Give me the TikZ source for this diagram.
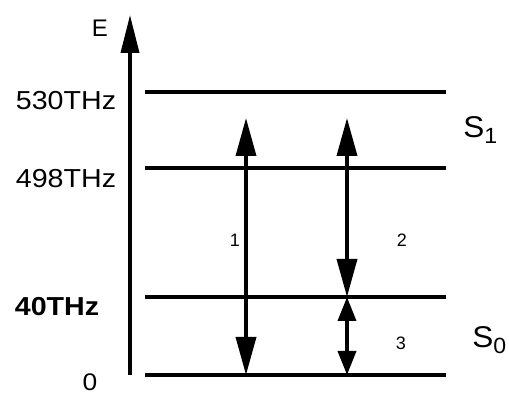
\documentclass[tikz,border=0pt]{standalone}
\usepackage{fontspec}
\setmainfont{Liberation Sans}
\usetikzlibrary{arrows.meta}
\begin{document}
\begin{tikzpicture}[
        x=0.5pt, y=-0.5pt,
        level/.style={line width=1.8pt},
        axis/.style={line width=1.8pt, -{Triangle[length=19pt, width=9pt]}},
        trans/.style={line width=1.8pt, {Triangle[length=19pt, width=10pt]}-{Triangle[length=19pt, width=10pt]}},
        short_trans/.style={line width=1.8pt, {Triangle[length=12pt, width=9pt]}-{Triangle[length=12pt, width=9pt]}},
        freq/.style={inner sep=0pt, xscale=1.1, font=\fontsize{13}{15}\selectfont},
        state/.style={inner sep=0pt, anchor=base west, xscale=1.05, font=\fontsize{15}{17}\selectfont},
        num_label/.style={inner sep=0pt, font=\fontsize{9}{10}\selectfont}
    ]
        \useasboundingbox (0,0) rectangle (509,394);

        % Energy axis
        \coordinate (axis_bot) at (130,375);
        \coordinate (axis_top) at (130,15);
        \draw[axis] (axis_bot) -- (axis_top);
        \node[inner sep=0pt, font=\fontsize{12}{13}\selectfont] (e_label) at (100,28.5) {E};

        % Levels
        \coordinate (lvl530_l) at (145,92);   \coordinate (lvl530_r) at (446,92);
        \coordinate (lvl498_l) at (145,168);  \coordinate (lvl498_r) at (446,168);
        \coordinate (lvl40_l) at (145,297);   \coordinate (lvl40_r) at (446,297);
        \coordinate (lvl0_l) at (145,375);    \coordinate (lvl0_r) at (446,375);
        \draw[level] (lvl530_l) -- (lvl530_r);
        \draw[level] (lvl498_l) -- (lvl498_r);
        \draw[level] (lvl40_l) -- (lvl40_r);
        \draw[level] (lvl0_l) -- (lvl0_r);

        % Frequency labels
        \node[freq] (f530) at (66,101) {530THz};
        \node[freq] (f498) at (66,178.5) {498THz};
        \node[freq, font=\fontsize{13}{15}\selectfont\bfseries] (f40) at (57,307) {40THz};
        \node[freq, font=\fontsize{12}{14}\selectfont] (f0) at (90,382.5) {0};

        % Transitions
        \coordinate (t1_top) at (246,118);
        \coordinate (t2_top) at (347,118);
        \draw[trans] (t1_top) -- (t1_top |- lvl0_l);
        \draw[trans] (t2_top) -- (t2_top |- lvl40_l);
        \draw[short_trans] (t2_top |- lvl40_l) -- (t2_top |- lvl0_l);
        \node[num_label] (n1) at (235,240.5) {1};
        \node[num_label] (n2) at (402,240.5) {2};
        \node[num_label] (n3) at (401,343.5) {3};

        % States
        \node[state] (s1) at (463,138) {S\raisebox{-3pt}{\fontsize{11}{12}\selectfont 1}};
        \node[state] (s0) at (472,348) {S\raisebox{-3pt}{\fontsize{11}{12}\selectfont 0}};
    \end{tikzpicture}
\end{document}
